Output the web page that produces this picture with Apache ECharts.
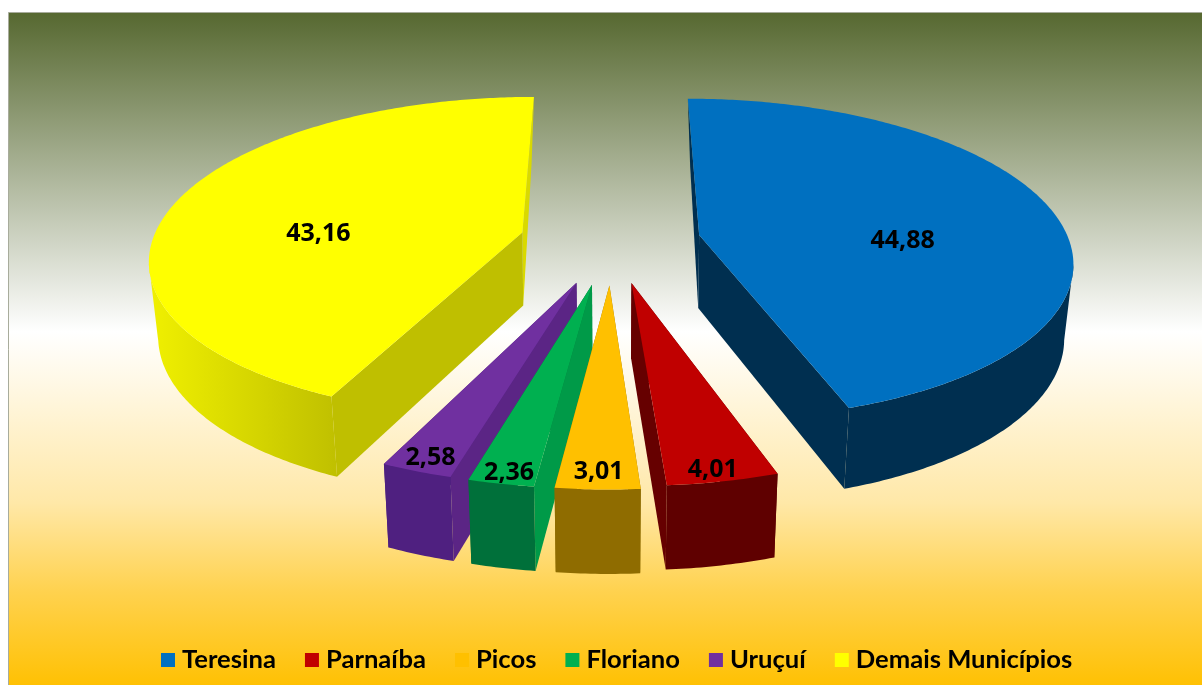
<!DOCTYPE html>
<html lang="pt">
<head>
    <meta charset="UTF-8">
    <title>Municípios</title>
    <style>
        html, body { margin: 0; padding: 0; background: #fff; }
    </style>
</head>
<body>

<div id="main" style="width: 1202px;height:685px;"></div>

<script type="text/javascript" src="https://cdn.jsdelivr.net/npm/echarts@6/dist/echarts.min.js"></script>
<script type="text/javascript">
    var categories = ['Teresina', 'Parnaíba', 'Picos', 'Floriano', 'Uruçuí', 'Demais Municípios'];
    var values = [44.88, 4.01, 3.01, 2.36, 2.58, 43.16];

    var topColors = ['#0070C0', '#C00000', '#FFC000', '#00B050', '#7030A0', '#FFFF00'];
    var rimColors = ['#002F50', '#5F0000', '#8F6C00', '#00703A', '#4F2080', '#BFBF00'];
    var startWallColors = ['#002F50', '#5F0000', '#8F6C00', '#009A48', '#5B2585', '#BFBF00'];
    var endWallColors = ['#002F50', '#660000', '#8F6C00', '#00703A', '#4F2080', '#D9D900'];

    // how far each slice is pulled out, and where its label sits
    var explode = [0.24, 0.26, 0.27, 0.27, 0.27, 0.25];
    var labelDist = [0.55, 0.95, 0.925, 0.95, 0.935, 0.555];
    var labelTurn = [13, 0.7, 0, -0.4, -0.3, -13];
    // back to front
    var drawOrder = [2, 4, 6, 5, 3, 1];

    var CX = 612, CY = 241, RX = 370, RY = 158.4, PERSP = 0.15;

    // pie plane -> screen
    function project(u, v) {
        var d = 1 + PERSP * v;
        return [CX + RX * u / d, CY - RY * v / d];
    }

    // top face point -> same point on the underside
    function lower(p) {
        var k = Math.min(0.02, -0.03 + 0.0003 * (p[1] - 99));
        return [p[0] - k * (p[0] - CX), p[1] + 73 + 0.045 * (p[1] - 235)];
    }

    function rad(a) {
        return a * Math.PI / 180;
    }

    function solid(points, fill) {
        return {
            type: 'polygon',
            shape: {points: points},
            style: {fill: fill}
        };
    }

    function sliceItem(index) {
        return function (params, api) {
            var start = 0;
            for (var i = 0; i < index; i++) {
                start += values[i] * 3.6;
            }
            var sweep = api.value(0) * 3.6;
            var mid = start + sweep / 2;
            var u0 = explode[index] * Math.sin(rad(mid));
            var v0 = explode[index] * Math.cos(rad(mid));

            var apex = project(u0, v0);
            var arc = [];
            var steps = Math.ceil(sweep * 1.5);
            var widest = 0;
            for (var a = 0; a <= steps; a++) {
                var t = rad(start + sweep * a / steps);
                arc.push(project(u0 + Math.sin(t), v0 + Math.cos(t)));
                if (Math.abs(arc[a][0] - CX) > Math.abs(arc[widest][0] - CX)) {
                    widest = a;
                }
            }
            var first = arc[0], last = arc[arc.length - 1];

            // big slices: only the front part of the rim shows, the back part would cross itself
            var front = arc;
            if (sweep > 90) {
                front = first[1] > last[1] ? arc.slice(0, widest + 1) : arc.slice(widest);
            }

            var rimFill = rimColors[index];
            if (index === 5) {
                rimFill = {
                    type: 'linear', global: true, x: 150, y: 0, x2: 340, y2: 0,
                    colorStops: [
                        {offset: 0, color: '#F0F000'},
                        {offset: 1, color: '#BFBF00'}
                    ]
                };
            }

            var startWall = solid([apex, first, lower(first), lower(apex)], startWallColors[index]);
            var endWall = solid([apex, last, lower(last), lower(apex)], endWallColors[index]);
            // left of centre the start wall is the one we see, it has to go on top
            var walls = mid > 185 ? [endWall, startWall] : [startWall, endWall];

            var children = walls.concat([
                solid(front.concat(front.map(lower).reverse()), rimFill),
                solid([apex].concat(arc), topColors[index])
            ]);

            var lp = rad(mid + labelTurn[index]);
            var labelPos = project(u0 + labelDist[index] * Math.sin(lp), v0 + labelDist[index] * Math.cos(lp));
            children.push({
                type: 'text',
                style: {
                    text: api.value(0).toFixed(2).replace('.', ','),
                    x: labelPos[0],
                    y: labelPos[1],
                    align: 'center',
                    verticalAlign: 'middle',
                    font: 'bold 25px "Open Sans"',
                    fill: '#000'
                }
            });

            return {type: 'group', children: children};
        };
    }

    var series = [];
    for (var i = 0; i < categories.length; i++) {
        series.push({
            name: categories[i],
            type: 'custom',
            coordinateSystem: 'none',
            z: 2 + drawOrder[i],
            silent: true,
            itemStyle: {color: topColors[i]},
            renderItem: sliceItem(i),
            data: [[values[i]]]
        });
    }

    var myChart = echarts.init(document.getElementById('main'), null, {renderer: 'canvas'});

    myChart.setOption({
        animation: false,
        tooltip: {show: false},
        graphic: [{
            type: 'rect',
            silent: true,
            z: 0,
            shape: {x: 8.5, y: 12.5, width: 1200, height: 680},
            style: {
                stroke: '#A8AC9C',
                lineWidth: 1,
                fill: {
                    type: 'linear', x: 0, y: 0, x2: 0, y2: 1,
                    colorStops: [
                        {offset: 0, color: '#566830'},
                        {offset: 0.47, color: '#FFFFFF'},
                        {offset: 0.72, color: '#FFE8A8'},
                        {offset: 0.85, color: '#FFD24F'},
                        {offset: 0.995, color: '#FFC000'}
                    ]
                }
            }
        }],
        legend: {
            data: categories,
            left: 156,
            top: 642,
            icon: 'rect',
            itemWidth: 14,
            itemHeight: 14,
            itemGap: 29,
            selectedMode: false,
            textStyle: {
                fontFamily: 'Lato',
                fontWeight: 'bold',
                fontSize: 25.6,
                color: '#000',
                padding: [0, 0, 0, 2]
            }
        },
        series: series
    });
</script>
</body>
</html>
